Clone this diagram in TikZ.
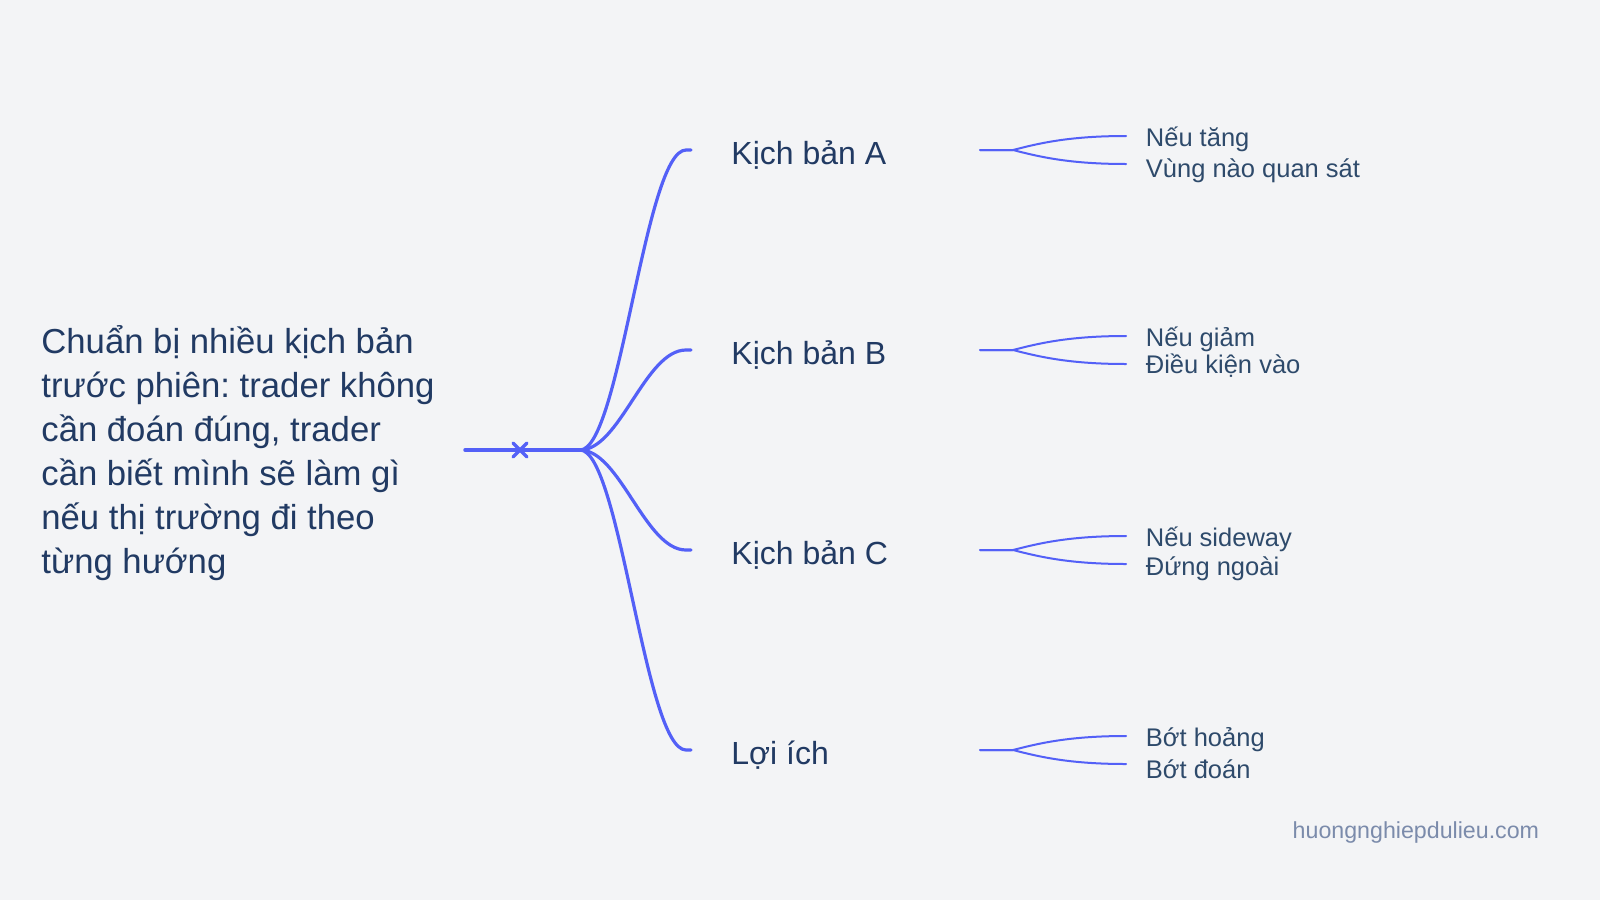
\documentclass[tikz,border=0pt]{standalone}
\usepackage{fontspec}
\usetikzlibrary{calc}
\setmainfont{Liberation Sans}
\frenchspacing
\definecolor{bgc}{HTML}{F3F4F6}
\definecolor{linec}{HTML}{5360F7}
\definecolor{maintxt}{HTML}{213A63}
\definecolor{subtxt}{HTML}{2E4A6B}
\definecolor{markc}{HTML}{7B8BAB}
\tikzset{
  rootline/.style={draw=linec, line width=1.75pt, line cap=round},
  branch/.style={draw=linec, line width=1.6pt, line cap=round},
  leafline/.style={draw=linec, line width=1pt, line cap=round},
  lvlone/.style={anchor=base west, inner sep=0pt, text=maintxt, font=\fontsize{16pt}{19pt}\selectfont},
  leaf/.style={anchor=base west, inner sep=0pt, text=subtxt, font=\fontsize{12.75pt}{15pt}\selectfont},
  roottext/.style={anchor=base west, inner sep=0pt, text=maintxt, font=\fontsize{17.35pt}{22pt}\selectfont},
}
\begin{document}
\begin{tikzpicture}[x=0.5pt,y=-0.5pt]
\useasboundingbox (0,0) rectangle (1600,900);
\fill[bgc] (0,0) rectangle (1600,900);

% root
\node[roottext] (root) at (41,353.3) {\parbox[t]{240pt}{\raggedright\frenchspacing
Chuẩn bị nhiều kịch bản\\
trước phiên: trader không\\
cần đoán đúng, trader\\
cần biết mình sẽ làm gì\\
nếu thị trường đi theo\\
từng hướng}};

\coordinate (rs) at (465,450);
\coordinate (rj) at (580,450);
\coordinate (xm) at (520,450);
\draw[rootline] (rs) -- (rj);
\draw[rootline] ($(xm)+(-7,-7)$) -- ($(xm)+(7,7)$);
\draw[rootline] ($(xm)+(-7,7)$) -- ($(xm)+(7,-7)$);

% level one
\foreach \nm/\yy/\txt in {A/150/Kịch bản A, B/350/Kịch bản B, C/550/Kịch bản C, D/750/Lợi ích}{
  \coordinate (e\nm) at (691,\yy);
  \coordinate (s\nm) at (980,\yy);
  \node[lvlone] (l\nm) at (731,\yy+14) {\txt};
  \draw[branch] (rj) .. controls (620,450) and (645,\yy) .. (686,\yy) -- (e\nm);
}

% leaves
\foreach \nm/\yy/\ta/\ba/\tb/\bb in {
  A/150/Nếu tăng/0.5/Vùng nào quan sát/4,
  B/350/Nếu giảm/0/Điều kiện vào/0,
  C/550/Nếu sideway/0/Đứng ngoài/1.7,
  D/750/Bớt hoảng/0.7/Bớt đoán/5}{
  \coordinate (u\nm) at (1126,\yy-14);
  \coordinate (d\nm) at (1126,\yy+14);
  \node[leaf] (t\nm) at (1145.5,\yy-4+\ba) {\ta};
  \node[leaf] (b\nm) at (1145.5,\yy+23.3+\bb) {\tb};
  \draw[leafline] (s\nm) -- ++(33,0) .. controls +(27,-7) and +(-56,0) .. (u\nm);
  \draw[leafline] (s\nm) -- ++(33,0) .. controls +(27,7) and +(-56,0) .. (d\nm);
}

\node[anchor=base east, inner sep=0pt, text=markc, font=\fontsize{11.6pt}{14pt}\selectfont] (mark) at (1539.5,838.3) {huongnghiepdulieu.com};
\end{tikzpicture}
\end{document}
